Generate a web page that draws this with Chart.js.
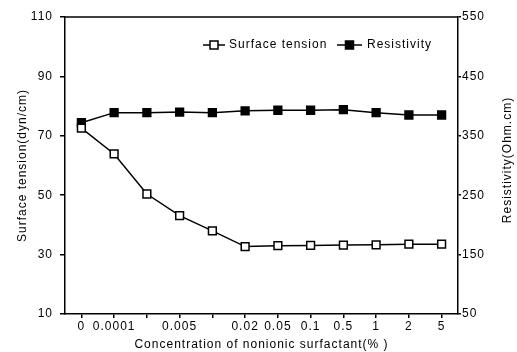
<!DOCTYPE html>
<html>
<head>
<meta charset="utf-8">
<script src="https://cdn.jsdelivr.net/npm/chart.js@4"></script>
<style>
body { margin: 0; background: #fff; }
</style>
</head>
<body>
<canvas id="chart" width="517" height="352"></canvas>
<script>
var concentrations = ['0', '0.0001', '', '0.005', '', '0.02', '0.05', '0.1', '0.5', '1', '2', '5'];
var surfaceTension = [72.6, 63.9, 50.4, 43.1, 38.0, 32.7, 33.0, 33.1, 33.2, 33.3, 33.5, 33.5];
var resistivity = [372, 389, 389, 390, 389, 392, 393, 393, 394, 389, 385, 385];
var tensionTicks = [10, 30, 50, 70, 90, 110];
var resistivityTicks = [50, 150, 250, 350, 450, 550];

var FONT = 'Liberation Sans';
var SIZE = 12;

function drawLegendItem(ctx, x1, x2, y, fill, text, textX) {
    ctx.save();
    ctx.strokeStyle = '#000';
    ctx.lineWidth = 1.5;
    ctx.beginPath();
    ctx.moveTo(x1, y);
    ctx.lineTo(x2, y);
    ctx.stroke();
    var cx = (x1 + x2) / 2;
    ctx.fillStyle = fill;
    ctx.fillRect(cx - 4, y - 4, 8, 8);
    ctx.strokeRect(cx - 4, y - 4, 8, 8);
    ctx.fillStyle = '#000';
    ctx.font = SIZE + 'px "' + FONT + '"';
    ctx.textAlign = 'left';
    ctx.textBaseline = 'middle';
    ctx.fillText(text, textX, y);
    ctx.restore();
}

// the scanned lettering is set wide, so space the letters out a little
var spacingPlugin = {
    id: 'spacing',
    beforeInit: function(chart) { chart.ctx.letterSpacing = '1px'; },
    beforeDraw: function(chart) { chart.ctx.letterSpacing = '1px'; }
};

var framePlugin = {
    id: 'frame',
    afterDraw: function(chart) {
        var ctx = chart.ctx;
        var area = chart.chartArea;
        ctx.save();
        ctx.strokeStyle = '#000';
        ctx.lineWidth = 1.5;
        ctx.beginPath();
        ctx.moveTo(area.left, area.top);
        ctx.lineTo(area.right, area.top);
        ctx.stroke();

        // right axis title reads bottom to top, like the left one
        ctx.translate(508, 160);
        ctx.rotate(-Math.PI / 2);
        ctx.fillStyle = '#000';
        ctx.font = SIZE + 'px "' + FONT + '"';
        ctx.textAlign = 'center';
        ctx.textBaseline = 'middle';
        ctx.fillText('Resistivity(Ohm.cm)', 0, 0);
        ctx.restore();

        drawLegendItem(ctx, 203, 225, 45, '#fff', 'Surface tension', 229);
        drawLegendItem(ctx, 337, 362, 45, '#000', 'Resistivity', 367);
    }
};

function fixedTicks(values) {
    return function(scale) {
        scale.ticks = values.map(function(v) { return { value: v }; });
    };
}

var ctx = document.getElementById('chart').getContext('2d');
var chart = new Chart(ctx, {
    type: 'line',
    data: {
        labels: concentrations,
        datasets: [
            {
                label: 'Surface tension',
                data: surfaceTension,
                yAxisID: 'y',
                borderColor: '#000',
                borderWidth: 1.5,
                backgroundColor: '#fff',
                pointStyle: 'rect',
                pointRadius: 5.5,
                pointBorderWidth: 1.5,
                pointBackgroundColor: '#fff',
                pointBorderColor: '#000',
                tension: 0
            },
            {
                label: 'Resistivity',
                data: resistivity,
                yAxisID: 'y1',
                borderColor: '#000',
                borderWidth: 1.5,
                backgroundColor: '#000',
                pointStyle: 'rect',
                pointRadius: 5.5,
                pointBorderWidth: 1.5,
                pointBackgroundColor: '#000',
                pointBorderColor: '#000',
                tension: 0
            }
        ]
    },
    options: {
        responsive: false,
        animation: false,
        layout: { padding: { top: 17, left: 0, right: 0, bottom: 0 } },
        plugins: {
            legend: { display: false },
            tooltip: { enabled: false }
        },
        scales: {
            x: {
                offset: true,
                afterFit: function(scale) { scale.height = 38; },
                grid: { drawOnChartArea: false, drawTicks: true, tickLength: 4, color: '#000', lineWidth: 1.5 },
                border: { display: true, color: '#000', width: 1.5 },
                ticks: { color: '#000', font: { family: FONT, size: SIZE }, padding: 1, maxRotation: 0, autoSkip: false },
                title: { display: true, text: 'Concentration of nonionic surfactant(% )', color: '#000', font: { family: FONT, size: SIZE }, padding: { top: 0, bottom: 0 } }
            },
            y: {
                position: 'left',
                min: 10,
                max: 110,
                afterBuildTicks: fixedTicks(tensionTicks),
                afterFit: function(scale) { scale.width = 65; },
                grid: { drawOnChartArea: false, drawTicks: true, tickLength: 5, color: '#000', lineWidth: 1.5 },
                border: { display: true, color: '#000', width: 1.5 },
                ticks: { color: '#000', font: { family: FONT, size: SIZE }, padding: 7 },
                title: { display: true, text: 'Surface tension(dyn/cm)', color: '#000', font: { family: FONT, size: SIZE }, padding: { top: 15, bottom: 0 } }
            },
            y1: {
                position: 'right',
                min: 50,
                max: 550,
                afterBuildTicks: fixedTicks(resistivityTicks),
                afterFit: function(scale) { scale.width = 59; },
                grid: { drawOnChartArea: false, drawTicks: true, tickLength: 3, color: '#000', lineWidth: 1.5 },
                border: { display: true, color: '#000', width: 1.5 },
                ticks: { color: '#000', font: { family: FONT, size: SIZE }, padding: 1 }
            }
        }
    },
    plugins: [spacingPlugin, framePlugin]
});
</script>
</body>
</html>
